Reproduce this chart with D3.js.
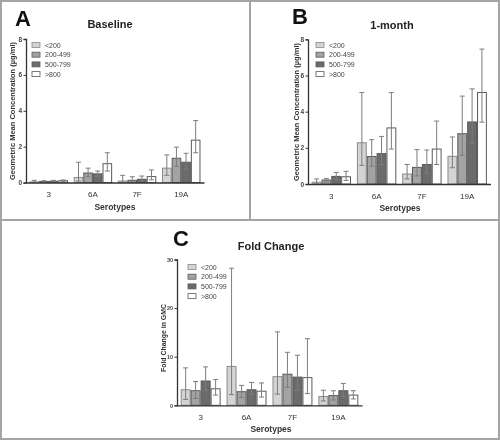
<!DOCTYPE html>
<html><head><meta charset="utf-8">
<script src="https://cdn.jsdelivr.net/npm/d3@7/dist/d3.min.js"></script>
<style>body{margin:0;background:#fff}svg{display:block;font-family:"Liberation Sans",Arial,sans-serif;will-change:transform;-webkit-font-smoothing:antialiased}</style>
</head><body><svg id="c" width="500" height="441"></svg>
<script>
const categories = ["3", "6A", "7F", "19A"];
const groups = ["<200", "200-499", "500-799", ">800"];
const groupColors = ["#d4d4d4", "#a3a3a3", "#6b6b6b", "#ffffff"];

// rows = groups, columns = categories
const baselineMean  = [[0.03,0.28,0.08,0.80],[0.06,0.53,0.12,1.35],[0.07,0.48,0.18,1.13],[0.10,1.05,0.33,2.36]];
const baselineUpper = [[0.12,1.13,0.40,1.54],[0.10,0.80,0.32,1.97],[0.12,0.64,0.36,1.63],[0.14,1.66,0.70,3.45]];
const baselineLower = [[0.00,0.08,0.00,0.40],[0.03,0.32,0.03,0.90],[0.04,0.35,0.08,0.75],[0.07,0.64,0.15,1.66]];

const monthMean  = [[0.10,2.28,0.55,1.53],[0.22,1.52,0.92,2.78],[0.42,1.68,1.08,3.43],[0.40,3.10,1.93,5.06]];
const monthUpper = [[0.28,5.06,1.08,2.60],[0.30,2.45,1.90,4.86],[0.64,2.63,1.88,5.26],[0.70,5.05,3.48,7.46]];
const monthLower = [[0.00,1.03,0.28,0.90],[0.12,0.98,0.45,1.58],[0.25,1.08,0.60,2.25],[0.20,1.93,1.08,3.42]];

const foldMean  = [[3.2,8.0,5.9,1.8],[3.0,2.8,6.4,2.0],[5.0,3.2,5.8,3.0],[3.4,2.9,5.7,2.1]];
const foldUpper = [[7.7,28.2,15.1,3.1],[4.9,4.1,10.9,3.0],[7.9,4.7,10.3,4.5],[5.3,4.6,13.7,3.0]];
const foldLower = [[1.2,2.2,2.3,0.9],[1.4,1.6,3.7,1.1],[3.1,2.2,3.1,1.8],[2.1,1.7,2.4,1.3]];

const yTicksConc = [0, 2, 4, 6, 8];
const yTicksFold = [0, 10, 20, 30];

const svg = d3.select("#c");

// panel frames
svg.append("rect").attr("x",1).attr("y",1).attr("width",498).attr("height",438)
  .attr("fill","none").attr("stroke","#a4a4a4").attr("stroke-width",2);
svg.append("line").attr("x1",250).attr("x2",250).attr("y1",1).attr("y2",220).attr("stroke","#a4a4a4").attr("stroke-width",2);
svg.append("line").attr("x1",1).attr("x2",499).attr("y1",220).attr("y2",220).attr("stroke","#a4a4a4").attr("stroke-width",2);

function panel(cfg) {
  const g = svg.append("g");
  const x0 = d3.scaleBand().domain(categories).range([cfg.left, cfg.right]).paddingInner(0.13).paddingOuter(0.08);
  const x1 = d3.scaleBand().domain(groups).range([0, x0.bandwidth()]);
  const y = d3.scaleLinear().domain([0, cfg.ymax]).range([cfg.bottom, cfg.top]);

  // letter & title
  g.append("text").attr("x", cfg.letterX).attr("y", cfg.letterY).text(cfg.letter)
    .attr("font-size", 22).attr("font-weight", "bold").attr("fill", "#111");
  g.append("text").attr("x", cfg.titleX).attr("y", cfg.titleY).text(cfg.title)
    .attr("text-anchor","middle").attr("font-size", 11).attr("font-weight","bold").attr("fill","#222");

  // bars
  const rows = [];
  groups.forEach((gr, gi) => categories.forEach((c, ci) => rows.push({
    gi, c, gr, m: cfg.mean[gi][ci], u: cfg.upper[gi][ci], l: cfg.lower[gi][ci]})));

  const barG = g.append("g");
  barG.selectAll("rect").data(rows).join("rect")
    .attr("x", d => x0(d.c) + x1(d.gr) + 0.5)
    .attr("width", x1.bandwidth() - 1)
    .attr("y", d => y(d.m))
    .attr("height", d => y(0) - y(d.m))
    .attr("fill", d => groupColors[d.gi])
    .attr("stroke", d => d.gi === 0 ? "#8a8a8a" : "#5a5a5a")
    .attr("stroke-width", 1);

  // error bars
  const eb = g.append("g").attr("stroke", "#7d7d7d").attr("stroke-width", 1).attr("fill","none");
  rows.forEach(d => {
    const cx = x0(d.c) + x1(d.gr) + x1.bandwidth()/2;
    eb.append("line").attr("x1",cx).attr("x2",cx).attr("y1",y(d.l)).attr("y2",y(d.u));
    [d.l, d.u].forEach(v => eb.append("line").attr("x1",cx-2.5).attr("x2",cx+2.5).attr("y1",y(v)).attr("y2",y(v)));
  });

  // axes
  const ya = g.append("g").attr("transform", `translate(${cfg.left},0)`)
    .call(d3.axisLeft(y).tickValues(cfg.yticks).tickSize(2.5).tickPadding(1.5));
  ya.select(".domain").attr("stroke","#333").attr("stroke-width",1.3);
  ya.selectAll(".tick line").attr("stroke","#333");
  ya.selectAll("text").attr("font-size",cfg.ytickFont).attr("font-weight","bold").attr("fill","#444").attr("font-family","Liberation Sans, Arial");

  const xa = g.append("g").attr("transform", `translate(0,${cfg.bottom})`)
    .call(d3.axisBottom(x0).tickSize(0).tickPadding(9).tickSizeOuter(0));
  xa.select(".domain").attr("stroke","#333").attr("stroke-width",1.3);
  xa.selectAll("text").attr("font-size",8).attr("fill","#333").attr("font-family","Liberation Sans, Arial");

  // legend
  const lg = g.append("g");
  groups.forEach((gr, gi) => {
    const ly = cfg.legY + gi * 9.7;
    lg.append("rect").attr("x", cfg.legX).attr("y", ly - 2.5).attr("width", 8).attr("height", 5)
      .attr("fill", groupColors[gi]).attr("stroke", gi === 0 ? "#8a8a8a" : "#5a5a5a").attr("stroke-width", 0.8);
    lg.append("text").attr("x", cfg.legX + 13).attr("y", ly + 2.5).text(gr)
      .attr("font-size", 7).attr("fill", "#444");
  });

  // axis titles
  g.append("text").attr("x", cfg.xtX).attr("y", cfg.xtY).text("Serotypes")
    .attr("text-anchor","middle").attr("font-size",8.5).attr("font-weight","bold").attr("fill","#333");
  g.append("text").attr("transform", `translate(${cfg.ytX},${cfg.ytY}) rotate(-90)`).text(cfg.ytitle)
    .attr("text-anchor","middle").attr("font-size",7.5).attr("font-weight","bold").attr("fill","#333")
    .attr("textLength", cfg.ytLen).attr("lengthAdjust","spacingAndGlyphs");
}

panel({letter:"A", letterX:15, letterY:26, title:"Baseline", titleX:110, titleY:28,
  left:26, right:204, top:39, bottom:182.5, ymax:8, yticks:yTicksConc, ytickFont:6.5,
  mean:baselineMean, upper:baselineUpper, lower:baselineLower,
  legX:32, legY:45, xtX:115, xtY:210, ytX:15, ytY:111, ytLen:138,
  ytitle:"Geometric Mean Concentration (\u00b5g/ml)"});

panel({letter:"B", letterX:292, letterY:24, title:"1-month", titleX:392, titleY:29,
  left:308, right:490.5, top:39.3, bottom:184, ymax:8, yticks:yTicksConc, ytickFont:6.5,
  mean:monthMean, upper:monthUpper, lower:monthLower,
  legX:316, legY:45, xtX:400, xtY:211, ytX:299, ytY:112, ytLen:138,
  ytitle:"Geometric Mean Concentration (\u00b5g/ml)"});

panel({letter:"C", letterX:173, letterY:246, title:"Fold Change", titleX:271, titleY:250,
  left:177, right:362, top:259.5, bottom:405.3, ymax:30, yticks:yTicksFold, ytickFont:5.5,
  mean:foldMean, upper:foldUpper, lower:foldLower,
  legX:188, legY:267, xtX:271, xtY:432, ytX:165.5, ytY:338, ytLen:68,
  ytitle:"Fold Change in GMC"});
</script></body></html>
